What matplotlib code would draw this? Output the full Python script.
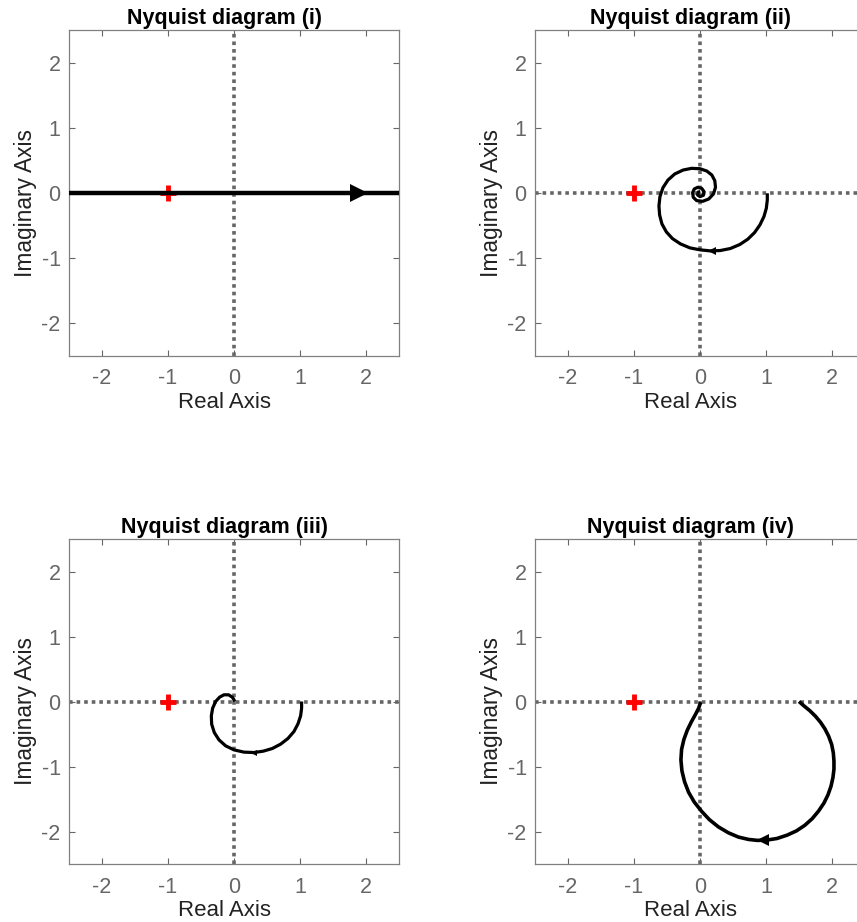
import numpy as np
from matplotlib import pyplot as plt

plt.rcParams['font.family'] = ['Liberation Sans', 'DejaVu Sans']
plt.rcParams['axes.unicode_minus'] = False

titles = ['Nyquist diagram (i)', 'Nyquist diagram (ii)',
          'Nyquist diagram (iii)', 'Nyquist diagram (iv)']
ticks = [-2, -1, 0, 1, 2]

# (i) straight line along the real axis
re1 = [-3.0, 3.0]
im1 = [0.0, 0.0]
arrow1 = (1.9, 0.0, '>')

# (ii) spiral into the origin
re2 = [1.02, 1.02, 1.005, 0.969, 0.908, 0.827, 0.724, 0.602, 0.459, 0.306, 0.153, 0.0,
       -0.153, -0.296, -0.418, -0.51, -0.577, -0.612, -0.622, -0.607, -0.561, -0.485,
       -0.383, -0.255, -0.128, 0.0, 0.102, 0.179, 0.224, 0.235, 0.204, 0.133, 0.041,
       -0.051, -0.102, -0.112, -0.087, -0.036, 0.026, 0.061, 0.051, 0.0, -0.036, -0.026, 0.005]
im2 = [-0.005, -0.107, -0.235, -0.362, -0.49, -0.607, -0.709, -0.791, -0.852, -0.883, -0.888, -0.872,
       -0.842, -0.781, -0.699, -0.597, -0.474, -0.337, -0.199, -0.056, 0.082, 0.199,
       0.291, 0.352, 0.378, 0.372, 0.337, 0.276, 0.189, 0.087, -0.015, -0.092, -0.128,
       -0.117, -0.066, 0.005, 0.061, 0.087, 0.071, 0.02, -0.036, -0.056, -0.031, 0.015, 0.02]
arrow2 = (0.18, -0.885, '<')

# (iii) partial spiral ending at the origin
re3 = [1.025, 1.025, 1.01, 0.97, 0.909, 0.818, 0.707, 0.581, 0.444, 0.303, 0.152, 0.0,
       -0.126, -0.227, -0.298, -0.338, -0.343, -0.323, -0.278, -0.217, -0.152, -0.081,
       -0.025, 0.0, 0.01]
im3 = [0.0, -0.103, -0.221, -0.344, -0.462, -0.569, -0.656, -0.723, -0.764, -0.785, -0.779, -0.744,
       -0.682, -0.59, -0.477, -0.349, -0.221, -0.103, 0.0, 0.067, 0.103, 0.103,
       0.067, 0.026, 0.0]
arrow3 = (0.3, -0.785, '<')

# (iv) large loop from 1.5 to the origin
re4 = [1.5, 1.574, 1.665, 1.751, 1.827, 1.893, 1.949, 1.995, 2.02, 2.03, 2.03, 2.015, 1.985,
       1.939, 1.878, 1.797, 1.701, 1.589, 1.462, 1.32, 1.168, 1.015, 0.873, 0.736, 0.584,
       0.431, 0.279, 0.142, 0.025, -0.086, -0.173, -0.234, -0.274, -0.289, -0.279, -0.244,
       -0.193, -0.132, -0.071, -0.02, 0.01]
im4 = [0.0, -0.066, -0.142, -0.228, -0.32, -0.421, -0.533, -0.66, -0.787, -0.914, -1.041, -1.168, -1.305,
       -1.437, -1.563, -1.685, -1.802, -1.904, -1.99, -2.056, -2.107, -2.132, -2.137, -2.122, -2.086,
       -2.02, -1.929, -1.817, -1.69, -1.548, -1.396, -1.234, -1.066, -0.898, -0.736, -0.584,
       -0.442, -0.315, -0.203, -0.102, -0.01]
arrow4 = (0.95, -2.135, '<')

curves = [(re1, im1, arrow1, 3.2), (re2, im2, arrow2, 2.3),
          (re3, im3, arrow3, 2.3), (re4, im4, arrow4, 2.6)]
arrow_size = [13, 6, 5, 9]

positions = [[0.0805, 0.6139, 0.385, 0.3536], [0.6243, 0.6139, 0.385, 0.3536],
             [0.0805, 0.0629, 0.385, 0.3525], [0.6243, 0.0629, 0.385, 0.3525]]

fig = plt.figure(figsize=(8.57, 9.22), dpi=100)

for k in range(4):
    ax = fig.add_axes(positions[k])
    re, im, arr, lw = curves[k]
    ax.axhline(0, color='#666666', lw=2.6, ls=(0, (1, 1.1)), dash_capstyle='butt', zorder=2)
    ax.axvline(0, color='#666666', lw=2.6, ls=(0, (1, 1.1)), dash_capstyle='butt', zorder=2)
    ax.plot([-1], [0], marker='+', color='red', ms=11, mew=3.5, zorder=3 if k > 0 else 1)
    ax.plot(re, im, color='black', lw=lw, solid_capstyle='butt', solid_joinstyle='round', zorder=4)
    ax.plot([arr[0]], [arr[1]], marker=arr[2], color='black', ms=arrow_size[k], mew=0, zorder=5)
    ax.set_xlim(-2.5, 2.5)
    ax.set_ylim(-2.5, 2.5)
    ax.set_xticks(ticks)
    ax.set_yticks(ticks)
    ax.tick_params(direction='in', top=True, right=True, length=4, width=0.8,
                   color='#666666', labelcolor='#666666', labelsize=15.5)
    ax.tick_params(axis='x', pad=9)
    ax.tick_params(axis='y', pad=6)
    for s in ax.spines.values():
        s.set_color('#808080')
        s.set_linewidth(0.9)
    ax.set_title(titles[k], fontsize=15.5, fontweight='bold', pad=4, x=0.47)
    ax.set_xlabel('Real Axis', fontsize=16, color='#222222', labelpad=1.5, x=0.47)
    ax.set_ylabel('Imaginary Axis', fontsize=16.4, color='#222222', labelpad=3, y=0.47)

plt.savefig('out.png', dpi=100)
